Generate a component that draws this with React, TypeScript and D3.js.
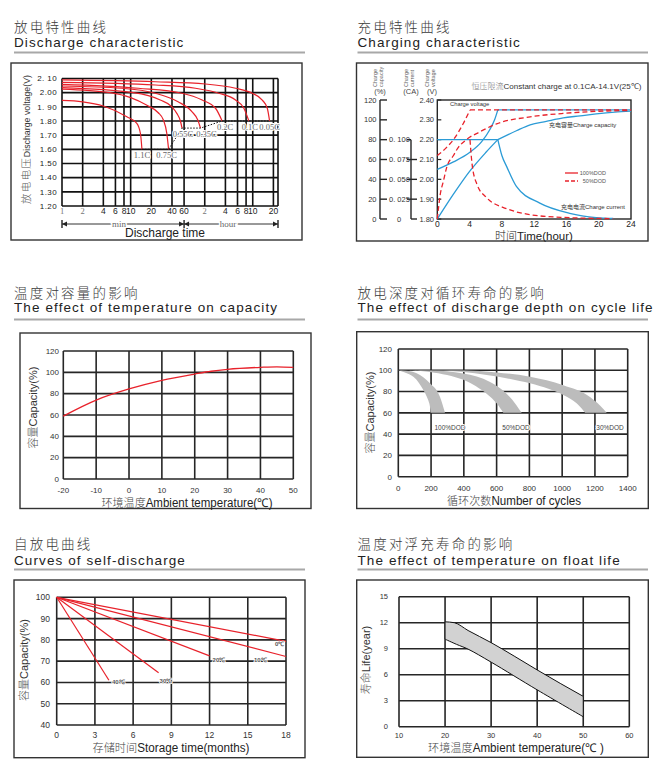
import React from 'react';
import * as d3 from 'd3';

type Pt = [number, number];

const SANS = '"Liberation Sans", Arial, sans-serif';
const SERIF = '"Liberation Serif", "DejaVu Serif", serif';
const CJK = '"Noto Sans CJK SC", sans-serif';
const RED = '#e8222b';
const BLUE = '#2b9bd6';
const INK = '#262626';

// discharge characteristic: time in minutes, voltage per cell
const dischargeTimeTicks = [1, 2, 4, 6, 8, 10, 20, 40, 60, 120, 240, 360, 480, 600, 1200];
const dischargeTimeLabels = ['1', '2', '4', '6', '8', '10', '20', '40', '60', '2', '4', '6', '8', '10', '20'];
const dischargeVoltTicks = [2.1, 2.0, 1.9, 1.8, 1.7, 1.6, 1.5, 1.4, 1.3, 1.2];
const dischargeVoltLabels = ['2. 10', '2.00', '1. 90', '1.80', '1.70', '1.60', '1.50', '1.40', '1.30', '1.20'];
const dischargeRates = ['0.05C', '0.1C', '0.2C', '0.35C', '0.55C', '0.75C', '1.1C'];
const rate005: Pt[] = [[1, 2.09], [23, 2.077], [123, 2.061], [337, 2.031], [590, 1.996], [826, 1.948], [977, 1.89], [1056, 1.8]];
const rate01: Pt[] = [[1, 2.073], [23, 2.054], [88, 2.031], [192, 1.996], [337, 1.948], [446, 1.89], [527, 1.8]];
const rate02: Pt[] = [[1, 2.059], [13, 2.031], [56, 1.996], [110, 1.948], [172, 1.89], [215, 1.8]];
const rate035: Pt[] = [[1, 2.047], [7.4, 2.031], [22.8, 1.996], [49, 1.936], [78, 1.866], [95, 1.807], [104, 1.75]];
const rate055: Pt[] = [[1, 2.035], [11, 2.0], [27, 1.948], [40, 1.9], [47, 1.854], [53, 1.8], [56, 1.75]];
const rate075: Pt[] = [[1, 2.025], [5, 2.0], [10, 1.965], [17, 1.913], [25, 1.86], [30, 1.807], [33.6, 1.713], [35.7, 1.6]];
const rate11: Pt[] = [[1, 1.945], [2, 1.935], [4, 1.906], [8.8, 1.83], [12.3, 1.784], [13.9, 1.71], [14.6, 1.6]];
const dischargeCurves = [rate005, rate01, rate02, rate035, rate055, rate075, rate11];
const cutoffLine: Pt[] = [[14.6, 1.6], [35.7, 1.6], [56, 1.75], [104, 1.75], [215, 1.8], [1056, 1.8]];

// charging characteristic: hours
const chargeTimeTicks = [0, 4, 8, 12, 16, 20, 24];
const capacityTicks = [0, 20, 40, 60, 80, 100, 120];
const currentTicks = [0, 0.025, 0.05, 0.075, 0.1];
const currentLabels = ['0', '0. 025', '0. 050', '0. 075', '0. 100'];
const chargeVoltTicks = [1.8, 1.9, 2.0, 2.1, 2.2, 2.3, 2.4];
const chargeVoltLabels = ['1.80', '1.90', '2.00', '2.10', '2.20', '2.30', '2.40'];
const fullVoltRise: Pt[] = [[0, 2.05], [2, 2.088], [4, 2.135], [5.5, 2.19], [6.5, 2.25], [7.1, 2.3], [7.5, 2.35]];
const fullVoltFloat: Pt[] = [[7.5, 2.35], [24, 2.35]];
const fullCurrentConst: Pt[] = [[0, 0.1], [7.5, 0.1]];
const fullCurrentDecay: Pt[] = [[7.5, 0.1], [8, 0.08], [8.6, 0.066], [9.8, 0.041], [12.7, 0.02], [16.4, 0.0072], [19.7, 0.0018], [21.8, 0.0006]];
const fullCapacityRise: Pt[] = [[0, 0], [2, 25], [4, 48], [6, 67], [7.5, 80]];
const fullCapacityTail: Pt[] = [[7.5, 80], [9.8, 89], [11.5, 95], [13.5, 98.5], [15.6, 102], [17.7, 104], [19.7, 106], [22, 107.8], [24, 108.8]];
const halfVoltRise: Pt[] = [[0, 2.12], [1, 2.155], [2, 2.2], [3.2, 2.28], [4.05, 2.35]];
const halfVoltFloat: Pt[] = [[4.05, 2.35], [24, 2.35]];
const halfCurrentDecay: Pt[] = [[4.05, 0.1], [4.3, 0.07], [4.9, 0.044], [6.1, 0.027], [8.6, 0.013], [11.5, 0.0055], [15.6, 0.002], [21.8, 0.0005]];
const halfCapacity: Pt[] = [[0, 0], [0.35, 24], [0.75, 38], [1.2, 53], [2, 64], [2.5, 71], [3.6, 80], [5.3, 88], [7.35, 96], [11.5, 103], [15.6, 106.5], [19.7, 108.5], [24, 109.5]];

// temperature vs capacity
const ambientTicks = [-20, -10, 0, 10, 20, 30, 40, 50];
const percentTicks = [0, 20, 40, 60, 80, 100, 120];
const tempCapacity: Pt[] = [[-20, 59], [-10, 74], [0, 84.4], [10, 92.5], [20, 98.4], [25, 101], [30, 102.8], [40, 104.7], [45, 105.2], [50, 104.6]];

// discharge depth vs cycle life (upper / lower band edges)
const cycleTicks = [0, 200, 400, 600, 800, 1000, 1200, 1400];
const dodNames = ['100%DOD', '50%DOD', '30%DOD'];
const dod100Upper: Pt[] = [[0, 100], [51, 99.6], [112, 97.1], [193, 87.7], [254, 75.2], [285, 60]];
const dod100Lower: Pt[] = [[0, 100], [92, 94], [153, 81.5], [189, 69], [197, 60]];
const dod50Upper: Pt[] = [[0, 100], [200, 99.8], [397, 97], [560, 89], [661, 78], [722, 67], [753, 60]];
const dod50Lower: Pt[] = [[0, 100], [193, 98.4], [397, 91], [539, 78], [600, 69], [641, 60]];
const dod30Upper: Pt[] = [[0, 100], [400, 99.8], [600, 98], [804, 94], [1007, 86], [1170, 75], [1231, 67], [1272, 60]];
const dod30Lower: Pt[] = [[0, 100], [397, 98.4], [804, 87.7], [1007, 76.8], [1088, 69], [1140, 60]];

// self-discharge
const storageTicks = [0, 3, 6, 9, 12, 15, 18];
const selfCapTicks = [40, 50, 60, 70, 80, 90, 100];
const storageTemps = ['0℃', '10℃', '20℃', '30℃', '40℃'];
const store0: Pt[] = [[0, 100], [18, 79.3]];
const store10: Pt[] = [[0, 100], [18, 72.2]];
const store20: Pt[] = [[0, 100], [12, 72.5]];
const store30: Pt[] = [[0, 100], [8, 64.5]];
const store40: Pt[] = [[0, 100], [4.1, 61]];
const storageLines = [store0, store10, store20, store30, store40];

// float life
const floatTempTicks = [10, 20, 30, 40, 50, 60];
const lifeTicks = [0, 3, 6, 9, 12, 15];
const lifeUpper: Pt[] = [[20, 12.1], [22, 12.0], [25, 11.1], [30, 9.7], [35, 8.15], [40, 6.55], [45, 5.0], [50, 3.5]];
const lifeLower: Pt[] = [[20, 10.1], [22.5, 9.5], [25, 8.95], [30, 7.45], [40, 4.25], [50, 1.15]];

type Lin = d3.ScaleLinear<number, number>;

const Title = ({ x, zhY, enY, lineY, x2, zh, en }: { x: number; zhY: number; enY: number; lineY: number; x2: number; zh: string; en: string }) => (
  <g>
    <text x={x} y={zhY} fontFamily={CJK} fontSize={13.5} letterSpacing={2.2} fill="#3a3a3a" fontWeight={300}>{zh}</text>
    <text x={x} y={enY} fontFamily={SANS} fontSize={13.5} letterSpacing={1.1} fill="#222">{en}</text>
    <line x1={x} x2={x2} y1={lineY} y2={lineY} stroke="#a8a8a8" strokeWidth={1.8} />
  </g>
);

const Frame = ({ x, y, w, h }: { x: number; y: number; w: number; h: number }) => (
  <rect x={x} y={y} width={w} height={h} fill="none" stroke="#333" strokeWidth={1.4} />
);

const YTitle = ({ x, y, zh, en, size = 11, zhSize = 11, spacing = 0 }: { x: number; y: number; zh: string; en: string; size?: number; zhSize?: number; spacing?: number }) => (
  <text transform={`translate(${x},${y}) rotate(-90)`} textAnchor="middle" fill="#333">
    <tspan fontFamily={CJK} fontSize={zhSize} letterSpacing={spacing} fill="#555" fontWeight={300}>{zh}</tspan>
    <tspan fontFamily={SANS} fontSize={size}>{en}</tspan>
  </text>
);

const XTitle = ({ x, y, zh, en, len }: { x: number; y: number; zh: string; en: string; len: number }) => (
  <text x={x} y={y} textAnchor="middle" textLength={len} lengthAdjust="spacingAndGlyphs" fill="#222">
    <tspan fontFamily={CJK} fontSize={11.5} fill="#444" fontWeight={300}>{zh}</tspan>
    <tspan fontFamily={SANS} fontSize={12}>{en}</tspan>
  </text>
);

const Grid = ({ x, y, xTicks, yTicks, xLabelY, yLabelX, size = 8 }: { x: Lin; y: Lin; xTicks: number[]; yTicks: number[]; xLabelY: number; yLabelX: number; size?: number }) => {
  const [x0, x1] = x.range();
  const [y0, y1] = y.range();
  return (
    <g>
      {xTicks.map(t => (
        <g key={'x' + t}>
          <line x1={x(t)} x2={x(t)} y1={y0} y2={y1} stroke={INK} strokeWidth={1.6} />
          <text x={x(t)} y={xLabelY} textAnchor="middle" fontFamily={SANS} fontSize={size} fill="#333">{t}</text>
        </g>
      ))}
      {yTicks.map(t => (
        <g key={'y' + t}>
          <line x1={x0} x2={x1} y1={y(t)} y2={y(t)} stroke={INK} strokeWidth={1.6} />
          <text x={yLabelX} y={y(t)} dy="0.35em" textAnchor="end" fontFamily={SANS} fontSize={size} fill="#333">{t}</text>
        </g>
      ))}
    </g>
  );
};

const DischargeChart = () => {
  const x = d3.scaleLog().domain([1, 1400]).range([62, 278]);
  const y = d3.scaleLinear().domain([1.2, 2.1]).range([206, 78.5]);
  const curve = d3.line<Pt>().x(d => x(d[0])).y(d => y(d[1])).curve(d3.curveMonotoneX);
  const straight = d3.line<Pt>().x(d => x(d[0])).y(d => y(d[1]));
  const mid = x(60);
  const barY = 224;
  const labelShift = [0, 1, 3, 6, 1, -2, 0];
  return (
    <g>
      <Frame x={11} y={63} w={291} h={177} />
      {dischargeVoltTicks.map((v, i) => (
        <g key={v}>
          <line x1={62} x2={278} y1={y(v)} y2={y(v)} stroke="#111" strokeWidth={1.6} />
          <text x={57} y={y(v)} dy="0.35em" textAnchor="end" fontFamily={SANS} fontSize={8} letterSpacing={0.4} fill="#222">{dischargeVoltLabels[i]}</text>
        </g>
      ))}
      {dischargeTimeTicks.map((t, i) => (
        <g key={t}>
          <line x1={x(t)} x2={x(t)} y1={y(2.1)} y2={y(1.2)} stroke="#111" strokeWidth={1.6} />
          <text x={x(t)} y={214} textAnchor="middle" fontFamily={dischargeTimeLabels[i] === '2' || t === 1 ? SERIF : SANS} fontSize={8.5} fill={dischargeTimeLabels[i] === '2' || t === 1 ? '#777' : '#222'}>{dischargeTimeLabels[i]}</text>
        </g>
      ))}
      <line x1={278} x2={278} y1={y(2.1)} y2={y(1.2)} stroke="#111" strokeWidth={1.6} />
      {dischargeCurves.map((c, i) => (
        <path key={dischargeRates[i]} d={curve(c) || ''} fill="none" stroke={RED} strokeWidth={1.2} />
      ))}
      <path d={straight(cutoffLine) || ''} fill="none" stroke="#111" strokeWidth={1} strokeDasharray="1.5,1.5" />
      {dischargeCurves.map((c, i) => {
        const end = c[c.length - 1];
        return (
          <text key={'l' + i} x={x(end[0]) + labelShift[i]} y={y(end[1]) + 9} textAnchor="middle" fontFamily={SERIF} fontSize={8.5} fill="#666"
            stroke="#fff" strokeWidth={2} paintOrder="stroke">{dischargeRates[i]}</text>
        );
      })}
      <YTitle x={30} y={139.5} zh="放电电压" en="Discharge voltage(V)" size={8.8} zhSize={10.5} spacing={1.2} />
      <line x1={x(1)} x2={278} y1={barY} y2={barY} stroke="#333" strokeWidth={1} />
      {[x(1), mid, 278].map((px, i) => (
        <g key={'bar' + i}>
          <line x1={px} x2={px} y1={barY - 4} y2={barY + 4} stroke="#222" strokeWidth={1.4} />
          {i < 2 && <path d={`M${px},${barY}L${px + 5},${barY - 2.5}L${px + 5},${barY + 2.5}Z`} fill="#222" />}
          {i > 0 && <path d={`M${px},${barY}L${px - 5},${barY - 2.5}L${px - 5},${barY + 2.5}Z`} fill="#222" />}
        </g>
      ))}
      <text x={119} y={226.5} textAnchor="middle" fontFamily={SERIF} fontSize={9} fill="#666" stroke="#fff" strokeWidth={3} paintOrder="stroke">min</text>
      <text x={228} y={226.5} textAnchor="middle" fontFamily={SERIF} fontSize={9} fill="#666" stroke="#fff" strokeWidth={3} paintOrder="stroke">hour</text>
      <text x={165} y={236.5} textAnchor="middle" fontFamily={SANS} fontSize={12} fill="#222">Discharge time</text>
    </g>
  );
};

const ChargeChart = () => {
  const x = d3.scaleLinear().domain([0, 24]).range([437.3, 631]);
  const yV = d3.scaleLinear().domain([1.8, 2.4]).range([219, 100]);
  const yC = d3.scaleLinear().domain([0, 120]).range([219, 100]);
  const yI = d3.scaleLinear().domain([0, 0.15]).range([219, 100]);
  const mk = (s: Lin) => d3.line<Pt>().x(d => x(d[0])).y(d => s(d[1])).curve(d3.curveMonotoneX);
  const lv = mk(yV), lc = mk(yC), li = mk(yI);
  const lin = (s: Lin) => d3.line<Pt>().x(d => x(d[0])).y(d => s(d[1]));
  const capX = 380, curX = 411;
  return (
    <g>
      <Frame x={356.5} y={63} w={291.5} h={178} />
      <text x={471.5} y={89} fontSize={8} fill="#333">
        <tspan fontFamily={CJK} fill="#777" fontWeight={300}>恒压限流</tspan>
        <tspan fontFamily={SANS}>Constant charge at 0.1CA-14.1V(25℃)</tspan>
      </text>
      {[['Charge', 'capacity', '(%)', capX], ['Charge', 'current', '(CA)', curX], ['Charge', 'voltage', '(V)', 432]].map(([a, b, u, px]) => (
        <g key={String(b)}>
          <text transform={`translate(${Number(px) - 3},87) rotate(-90)`} fontFamily={SANS} fontSize={5.5} fill="#666">
            <tspan x={0} dy={0}>{a}</tspan>
            <tspan x={0} dy={6}>{b}</tspan>
          </text>
          <text x={Number(px)} y={93.5} textAnchor="middle" fontFamily={SANS} fontSize={7.5} fill="#444">{u}</text>
        </g>
      ))}
      <line x1={capX} x2={capX} y1={yC(120)} y2={yC(0)} stroke={INK} strokeWidth={1.4} />
      {capacityTicks.map(t => (
        <g key={'c' + t}>
          <line x1={capX} x2={capX + 7} y1={yC(t)} y2={yC(t)} stroke={INK} strokeWidth={1.4} />
          <text x={376.5} y={yC(t)} dy="0.35em" textAnchor="end" fontFamily={SANS} fontSize={7.5} fill="#333">{t}</text>
        </g>
      ))}
      <line x1={curX} x2={curX} y1={yI(0.1)} y2={yI(0)} stroke={INK} strokeWidth={1.4} />
      {currentTicks.map((t, i) => (
        <g key={'i' + t}>
          <line x1={t === 0 ? curX : curX - 4} x2={t === 0.1 ? curX : curX + 6} y1={yI(t)} y2={yI(t)} stroke={INK} strokeWidth={1.4} />
          <text x={t === 0 ? 399 : 389} y={yI(t)} dy="0.35em" textAnchor={t === 0 ? 'middle' : 'start'} fontFamily={SANS} fontSize={7.5} fill="#333">{currentLabels[i]}</text>
        </g>
      ))}
      {chargeVoltTicks.map((t, i) => (
        <g key={'v' + t}>
          <line x1={x(0)} x2={x(0) + 4} y1={yV(t)} y2={yV(t)} stroke={INK} strokeWidth={1.2} />
          <text x={434} y={yV(t)} dy="0.35em" textAnchor="end" fontFamily={SANS} fontSize={7.5} fill="#333">{chargeVoltLabels[i]}</text>
        </g>
      ))}
      <rect x={x(0)} y={yV(2.4)} width={x(24) - x(0)} height={yV(1.8) - yV(2.4)} fill="none" stroke={INK} strokeWidth={1.4} />
      {chargeTimeTicks.map(t => (
        <text key={'t' + t} x={x(t)} y={226.8} textAnchor="middle" fontFamily={SANS} fontSize={8.5} fill="#222">{t}</text>
      ))}
      <g fill="none" stroke={BLUE} strokeWidth={1.3}>
        <path d={lv(fullVoltRise) || ''} />
        <path d={lin(yV)(fullVoltFloat) || ''} />
        <path d={lin(yI)(fullCurrentConst) || ''} />
        <path d={li(fullCurrentDecay) || ''} />
        <path d={lc(fullCapacityRise) || ''} />
        <path d={lc(fullCapacityTail) || ''} />
      </g>
      <g fill="none" stroke={RED} strokeWidth={1.3} strokeDasharray="5,3">
        <path d={lv(halfVoltRise) || ''} />
        <path d={lin(yV)(halfVoltFloat) || ''} />
        <path d={li(halfCurrentDecay) || ''} />
        <path d={lc(halfCapacity) || ''} />
      </g>
      <text x={450} y={106} fontFamily={SANS} fontSize={5.8} fill="#333">Charge voltage</text>
      <text x={549} y={127} fontFamily={SANS} fontSize={6} fill="#333"><tspan fontFamily={CJK}>充电容量</tspan>Charge  capacity</text>
      <text x={561} y={208.5} fontFamily={SANS} fontSize={6} fill="#333"><tspan fontFamily={CJK}>充电电流</tspan>Charge  current</text>
      <line x1={565} x2={578} y1={173} y2={173} stroke={RED} strokeWidth={1.3} />
      <line x1={565} x2={578} y1={181} y2={181} stroke={RED} strokeWidth={1.3} strokeDasharray="4,2" />
      <text x={606} y={175} textAnchor="end" fontFamily={SANS} fontSize={5.5} fill="#555">100%DOD</text>
      <text x={606} y={183} textAnchor="end" fontFamily={SANS} fontSize={5.5} fill="#555">50%DOD</text>
      <text x={534} y={240.3} textAnchor="middle" fill="#222">
        <tspan fontFamily={CJK} fontSize={11} fontWeight={300}>时间</tspan>
        <tspan fontFamily={SANS} fontSize={11.5}>Time(hour)</tspan>
      </text>
    </g>
  );
};

const TempCapacityChart = () => {
  const x = d3.scaleLinear().domain([-20, 50]).range([63.3, 293.3]);
  const y = d3.scaleLinear().domain([0, 120]).range([479, 351]);
  const line = d3.line<Pt>().x(d => x(d[0])).y(d => y(d[1])).curve(d3.curveMonotoneX);
  return (
    <g>
      <Frame x={20} y={333} w={291} h={175.5} />
      <Grid x={x} y={y} xTicks={ambientTicks} yTicks={percentTicks} xLabelY={493} yLabelX={59} />
      <path d={line(tempCapacity) || ''} fill="none" stroke={RED} strokeWidth={1.3} />
      <YTitle x={37} y={407.5} zh="容量" en="Capacity(%)" />
      <XTitle x={187} y={506.5} zh="环境温度" en="Ambient temperature(℃)" len={171} />
    </g>
  );
};

const CycleLifeChart = () => {
  const x = d3.scaleLinear().domain([0, 1400]).range([398.3, 627.7]);
  const y = d3.scaleLinear().domain([0, 120]).range([476.7, 349]);
  const edge = d3.line<Pt>().x(d => x(d[0])).y(d => y(d[1])).curve(d3.curveMonotoneX);
  const band = (up: Pt[], lo: Pt[]) => {
    const a = edge(up) || '';
    // close the band: upper edge out, lower edge traced back by reversing the points
    const back = d3.line<Pt>().x(d => x(d[0])).y(d => y(d[1])).curve(d3.curveCatmullRom)([...lo].reverse()) || '';
    return `${a}L${back.slice(1)}Z`;
  };
  const bands = [[dod100Upper, dod100Lower], [dod50Upper, dod50Lower], [dod30Upper, dod30Lower]];
  const labelX = [450, 516, 610];
  return (
    <g>
      <Frame x={356.7} y={331.7} w={291.6} h={176.8} />
      <Grid x={x} y={y} xTicks={cycleTicks} yTicks={percentTicks} xLabelY={490.5} yLabelX={392} />
      {bands.map(([u, l], i) => (
        <path key={dodNames[i]} d={band(u, l)} fill="#bcbcbc" stroke="none" />
      ))}
      {dodNames.map((n, i) => (
        <text key={n} x={labelX[i]} y={y(44)} textAnchor="middle" fontFamily={SANS} fontSize={6.5} fill="#444"
          stroke="#fff" strokeWidth={2} paintOrder="stroke">{n}</text>
      ))}
      <YTitle x={374} y={412.5} zh="容量" en="Capacity(%)" />
      <XTitle x={514} y={504.5} zh="循环次数" en="Number of cycles" len={134} />
    </g>
  );
};

const SelfDischargeChart = () => {
  const x = d3.scaleLinear().domain([0, 18]).range([56.7, 286]);
  const y = d3.scaleLinear().domain([40, 100]).range([725, 597.3]);
  const line = d3.line<Pt>().x(d => x(d[0])).y(d => y(d[1]));
  const lab = [[-11, 3], [-32, 3], [3, 4], [1, 8], [3, 2]];
  return (
    <g>
      <Frame x={14} y={580} w={291} h={177.7} />
      <Grid x={x} y={y} xTicks={storageTicks} yTicks={selfCapTicks} xLabelY={737.5} yLabelX={50} size={8.5} />
      {storageLines.map((l, i) => {
        const end = l[l.length - 1];
        return (
          <g key={storageTemps[i]}>
            <path d={line(l) || ''} fill="none" stroke={RED} strokeWidth={1.2} />
            <text x={x(end[0]) + lab[i][0]} y={y(end[1]) + lab[i][1]} dy="0.35em" fontFamily={SANS} fontSize={6} fontWeight="bold" fill="#555"
              stroke="#fff" strokeWidth={1.5} paintOrder="stroke">{storageTemps[i]}</text>
          </g>
        );
      })}
      <YTitle x={28} y={660} zh="容量" en="Capacity(%)" />
      <XTitle x={171} y={751.5} zh="存储时间" en="Storage time(months)" len={157} />
    </g>
  );
};

const FloatLifeChart = () => {
  const x = d3.scaleLinear().domain([10, 60]).range([399, 629.3]);
  const y = d3.scaleLinear().domain([0, 15]).range([726.7, 596.7]);
  const edge = d3.line<Pt>().x(d => x(d[0])).y(d => y(d[1])).curve(d3.curveMonotoneX);
  const upper = edge(lifeUpper) || '';
  const lower = d3.line<Pt>().x(d => x(d[0])).y(d => y(d[1])).curve(d3.curveCatmullRom)([...lifeLower].reverse()) || '';
  return (
    <g>
      <Frame x={356.7} y={580} w={291.6} h={177.3} />
      <Grid x={x} y={y} xTicks={floatTempTicks} yTicks={lifeTicks} xLabelY={738} yLabelX={388} size={7.5} />
      <path d={`${upper}L${lower.slice(1)}Z`} fill="#d2d2d2" stroke="#111" strokeWidth={1} />
      <YTitle x={370} y={660} zh="寿命" en="Life(year)" />
      <XTitle x={516} y={752} zh="环境温度" en="Ambient temperature(℃ )" len={176} />
    </g>
  );
};

const App: React.FC = () => (
  <div style={{ position: 'absolute', left: 0, top: 0, background: '#fff' }}>
    <svg width={664} height={769} viewBox="0 0 664 769" style={{ display: 'block' }}>
      <rect width={664} height={769} fill="#fff" />
      <Title x={14} zhY={32} enY={46.5} lineY={52.5} x2={305} zh="放电特性曲线" en="Discharge characteristic" />
      <Title x={357.5} zhY={32} enY={46.5} lineY={52.5} x2={648} zh="充电特性曲线" en="Charging characteristic" />
      <Title x={14} zhY={298} enY={312.3} lineY={319.5} x2={305} zh="温度对容量的影响" en="The effect of temperature on capacity" />
      <Title x={357.5} zhY={298} enY={312.3} lineY={319.5} x2={648} zh="放电深度对循环寿命的影响" en="The effect of discharge depth on cycle life" />
      <Title x={14} zhY={549} enY={565} lineY={569.5} x2={305} zh="自放电曲线" en="Curves of self-discharge" />
      <Title x={357.5} zhY={549} enY={565} lineY={569.5} x2={648} zh="温度对浮充寿命的影响" en="The effect of temperature on float  life" />
      <DischargeChart />
      <ChargeChart />
      <TempCapacityChart />
      <CycleLifeChart />
      <SelfDischargeChart />
      <FloatLifeChart />
    </svg>
  </div>
);

export default App;
